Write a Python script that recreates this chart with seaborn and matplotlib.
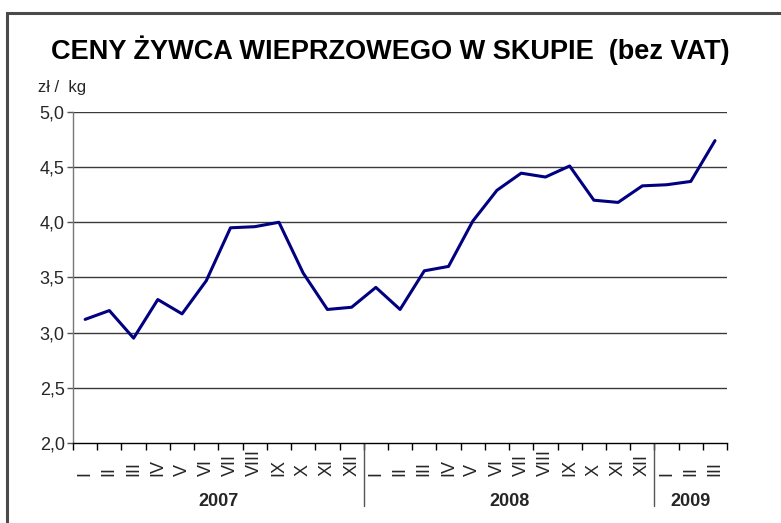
"""
Ceny żywca wieprzowego w skupie (bez VAT), 2007 - III 2009.
"""

import numpy as np
import pandas as pd
import matplotlib
matplotlib.use("Agg")
import matplotlib.pyplot as plt
import matplotlib.transforms as mtransforms
from matplotlib.patches import Rectangle
import seaborn as sns

# ── Data ──────────────────────────────────────────────────────────────────────
MONTHS_2007 = ["I", "II", "III", "IV", "V", "VI", "VII", "VIII", "IX", "X", "XI", "XII"]
MONTHS_2008 = ["I", "II", "III", "IV", "V", "VI", "VII", "VIII", "IX", "X", "XI", "XII"]
MONTHS_2009 = ["I", "II", "III"]
YEARS = ["2007", "2008", "2009"]

PRICES = [3.12, 3.20, 2.95, 3.30, 3.17, 3.47, 3.95, 3.96, 4.00, 3.54, 3.21, 3.23,
          3.41, 3.21, 3.56, 3.60, 4.01, 4.29, 4.445, 4.41, 4.51, 4.20, 4.18, 4.33,
          4.34, 4.37, 4.74]

Y_TICKS = [2.0, 2.5, 3.0, 3.5, 4.0, 4.5, 5.0]

TITLE = "CENY ŻYWCA WIEPRZOWEGO W SKUPIE  (bez VAT)"
UNIT = "zł /  kg"

# ── Plot ──────────────────────────────────────────────────────────────────────
sns.set_style("white")
plt.rcParams["font.family"] = ["Liberation Sans", "DejaVu Sans"]

months = MONTHS_2007 + MONTHS_2008 + MONTHS_2009
df = pd.DataFrame({"idx": np.arange(len(PRICES)), "price": PRICES})

fig = plt.figure(figsize=(7.81, 5.23), dpi=100)
ax = fig.add_axes([0.0935, 0.153, 0.8375, 0.633])

# outer frame
fig.patches.append(Rectangle((0.009, -0.02), 1.05, 0.995, transform=fig.transFigure,
                             fill=False, edgecolor="#4a4a4a", linewidth=2.2))

for y in Y_TICKS[1:]:
    ax.axhline(y, color="#3a3a3a", linewidth=1.0, zorder=1)

sns.lineplot(data=df, x="idx", y="price", color="#000080", linewidth=2.2, ax=ax, zorder=3)

ax.set_xlim(-0.5, len(PRICES) - 0.5)
ax.set_ylim(2.0, 5.0)
ax.set_xlabel("")
ax.set_ylabel("")

# y axis
ax.set_yticks(Y_TICKS)
ax.set_yticklabels([f"{v:.1f}".replace(".", ",") for v in Y_TICKS], fontsize=13)
ax.tick_params(axis="y", length=4, width=1, color="#555555", pad=2, left=True)

# x axis: ticks on month boundaries, labels centered under months
ax.set_xticks(np.arange(-0.5, len(PRICES), 1.0))
ax.set_xticklabels([])
ax.tick_params(axis="x", which="major", length=5, width=1, color="black", bottom=True)
ax.set_xticks(np.arange(len(PRICES)), minor=True)
ax.set_xticklabels(months, minor=True, rotation=90, fontsize=13)
ax.tick_params(axis="x", which="minor", length=0, pad=24)
for lbl in ax.get_xticklabels(minor=True):
    lbl.set_verticalalignment("bottom")

for side in ["top", "right"]:
    ax.spines[side].set_visible(False)
ax.spines["left"].set_color("#777777")
ax.spines["left"].set_linewidth(1.0)
ax.spines["bottom"].set_color("black")
ax.spines["bottom"].set_linewidth(1.0)

# year groups
trans = mtransforms.blended_transform_factory(ax.transData, ax.transAxes)
group_sizes = [len(MONTHS_2007), len(MONTHS_2008), len(MONTHS_2009)]
start = 0
for year, n in zip(YEARS, group_sizes):
    ax.text(start + (n - 1) / 2, -0.178, year, transform=trans, ha="center", va="center",
            fontsize=13, fontweight="bold")
    start += n
    if start < len(PRICES):
        ax.plot([start - 0.5, start - 0.5], [0, -0.19], transform=trans, color="#555555",
                linewidth=1.0, clip_on=False)

fig.text(0.5, 0.904, TITLE, ha="center", va="center", fontsize=19.5, fontweight="bold",
         color="black")
fig.text(0.049, 0.832, UNIT, ha="left", va="center", fontsize=12)

fig.savefig("out.png", dpi=100)
